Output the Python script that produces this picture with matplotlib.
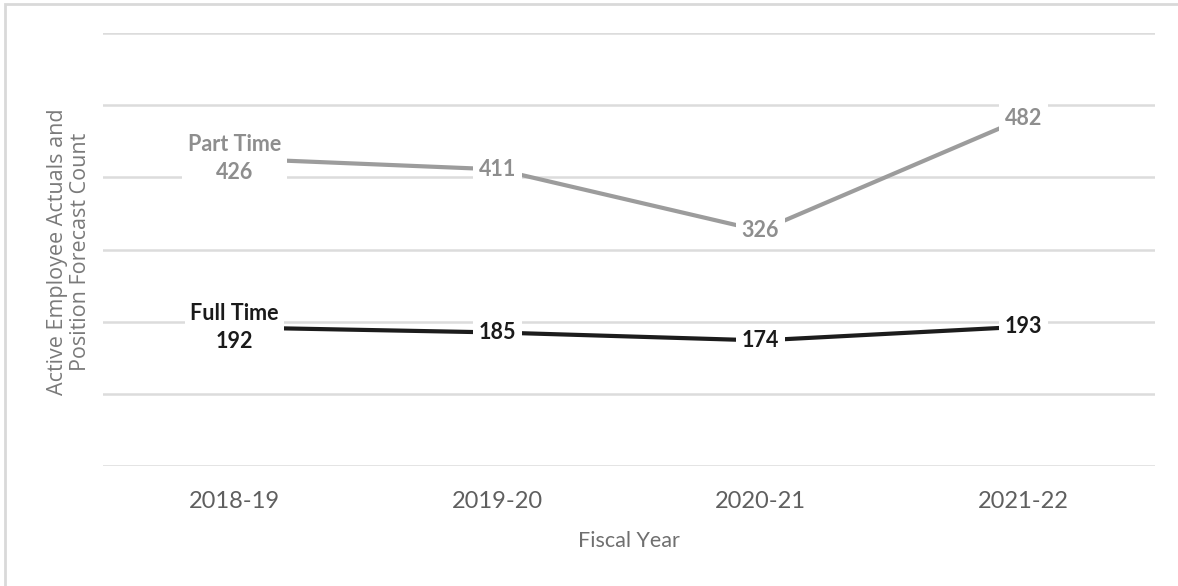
import matplotlib
matplotlib.use("Agg")

import matplotlib.pyplot as plt
from matplotlib.patches import Rectangle

years = ["2018-19", "2019-20", "2020-21", "2021-22"]
part_time = [426, 411, 326, 482]
full_time = [192, 185, 174, 193]

PART_COLOR = "#9c9c9c"
FULL_COLOR = "#1c1c1c"
GRID_COLOR = "#dcdcdc"
TEXT_COLOR = "#6f6f6f"

fig = plt.figure(figsize=(11.78, 5.86), dpi=100)
ax = fig.add_axes([103 / 1178, 120 / 586, 1052 / 1178, 433 / 586])

# outer frame (only top/left visible in the original)
fig.patches.append(Rectangle((5 / 1178, -0.1), 1.2, (586 - 4) / 586 + 0.1,
                             transform=fig.transFigure, fill=False,
                             edgecolor="#d9d9d9", linewidth=2))

x = list(range(len(years)))
ax.plot(x, part_time, color=PART_COLOR, linewidth=3, zorder=3)
ax.plot(x, full_time, color=FULL_COLOR, linewidth=3, zorder=3)

box = dict(boxstyle="square,pad=0.25", facecolor="white", edgecolor="none")
for i, (p, f) in enumerate(zip(part_time, full_time)):
    ptxt = f"Part Time\n{p}" if i == 0 else str(p)
    ftxt = f"Full Time\n{f}" if i == 0 else str(f)
    ax.text(i, p, ptxt, ha="center", va="center", fontsize=15.5,
            fontweight="bold", color="#8e8e8e", family="Lato",
            bbox=box, zorder=4, linespacing=1.45)
    ax.text(i, f, ftxt, ha="center", va="center", fontsize=15.5,
            fontweight="bold", color="#1a1a1a", family="Lato",
            bbox=box, zorder=4, linespacing=1.45)

ax.set_xlim(-0.5, len(years) - 0.5)
ax.set_ylim(0, 600)
ax.set_yticks(range(0, 601, 100))
ax.set_yticklabels([])
ax.set_xticks(x)
ax.set_xticklabels(years, fontsize=17, color="#5f5f5f", family="Lato")
ax.tick_params(length=0)
ax.tick_params(axis="x", pad=18)
ax.grid(axis="y", color=GRID_COLOR, linewidth=1.8, zorder=1)
for s in ax.spines.values():
    s.set_visible(False)

ax.set_xlabel("Fiscal Year", fontsize=15.5, color=TEXT_COLOR, family="Lato",
              labelpad=14)
fig.text(69 / 1178, (586 - 252) / 586,
         "Active Employee Actuals and\nPosition Forecast Count",
         rotation=90, ha="center", va="center", fontsize=15.5,
         color="#7a7a7a", family="Open Sans", linespacing=1.15)

fig.savefig("out.png", dpi=100)
